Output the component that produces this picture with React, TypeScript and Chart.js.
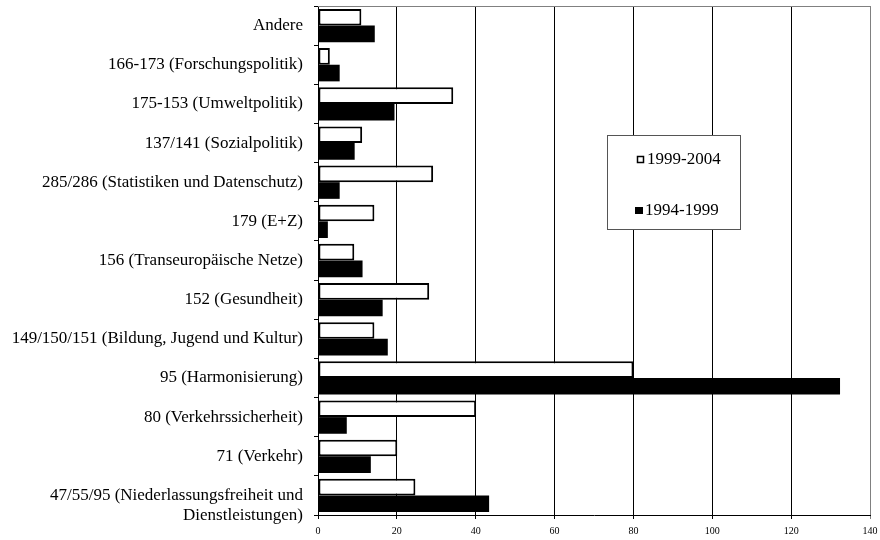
import React, { useEffect, useRef } from "react";
import { Chart, registerables } from "chart.js";

Chart.register(...registerables);

const categories: (string | string[])[] = [
  "Andere",
  "166-173 (Forschungspolitik)",
  "175-153 (Umweltpolitik)",
  "137/141 (Sozialpolitik)",
  "285/286 (Statistiken und Datenschutz)",
  "179 (E+Z)",
  "156 (Transeuropäische Netze)",
  "152 (Gesundheit)",
  "149/150/151 (Bildung, Jugend und Kultur)",
  "95 (Harmonisierung)",
  "80 (Verkehrssicherheit)",
  "71 (Verkehr)",
  ["", "47/55/95 (Niederlassungsfreiheit und", "Dienstleistungen)"],
];

const seriesLabels = ["1999-2004", "1994-1999"];
const values1999_2004 = [11, 3, 34.3, 11.2, 29.2, 14.3, 9.2, 28.2, 14.3, 80, 40.1, 20.1, 24.7];
const values1994_1999 = [14.4, 5.5, 19.4, 9.3, 5.5, 2.5, 11.3, 16.4, 17.7, 132.4, 7.3, 13.4, 43.4];
const xMin = 0;
const xMax = 140;
const xStep = 20;

const FONT = "'Liberation Serif', 'Times New Roman', serif";

const frameAndLegend = {
  id: "frameAndLegend",
  beforeDatasetsDraw(chart: any) {
    const { ctx, chartArea } = chart;
    ctx.save();
    ctx.strokeStyle = "#808080";
    ctx.lineWidth = 1;
    ctx.beginPath();
    ctx.moveTo(chartArea.left, Math.round(chartArea.top) + 0.5);
    ctx.lineTo(chartArea.right, Math.round(chartArea.top) + 0.5);
    ctx.stroke();
    ctx.restore();
  },
  afterDraw(chart: any) {
    const { ctx } = chart;
    ctx.save();
    const bx = 607, by = 135, bw = 133, bh = 94;
    ctx.fillStyle = "#ffffff";
    ctx.fillRect(bx, by, bw, bh);
    ctx.strokeStyle = "#555555";
    ctx.lineWidth = 1;
    ctx.strokeRect(bx + 0.5, by + 0.5, bw, bh);
    ctx.font = `17px ${FONT}`;
    ctx.textBaseline = "middle";
    ctx.textAlign = "left";
    // entry 1
    ctx.fillStyle = "#ffffff";
    ctx.fillRect(637, 156, 7, 7);
    ctx.strokeStyle = "#000";
    ctx.lineWidth = 1.5;
    ctx.strokeRect(637.5, 156.5, 6, 6);
    ctx.fillStyle = "#000";
    ctx.fillText(seriesLabels[0], 647, 160);
    // entry 2
    ctx.fillRect(635, 207, 8, 7);
    ctx.fillText(seriesLabels[1], 645, 211);
    ctx.restore();
  },
};

export default function App() {
  const ref = useRef<HTMLCanvasElement | null>(null);

  useEffect(() => {
    if (!ref.current) return;
    const chart = new Chart(ref.current, {
      type: "bar",
      data: {
        labels: categories as any,
        datasets: [
          {
            label: seriesLabels[0],
            data: values1999_2004,
            backgroundColor: "#ffffff",
            borderColor: "#000000",
            borderWidth: 2,
            borderSkipped: false,
            categoryPercentage: 0.85,
            barPercentage: 1.0,
          },
          {
            label: seriesLabels[1],
            data: values1994_1999,
            backgroundColor: "#000000",
            borderColor: "#000000",
            borderWidth: 0,
            borderSkipped: false,
            categoryPercentage: 0.85,
            barPercentage: 1.0,
          },
        ],
      },
      options: {
        indexAxis: "y",
        animation: false,
        responsive: true,
        maintainAspectRatio: false,
        layout: { padding: { top: 6, right: 10, left: 0, bottom: 0 } },
        plugins: {
          legend: { display: false },
          tooltip: { enabled: false },
          title: { display: false },
        },
        scales: {
          x: {
            min: xMin,
            max: xMax,
            ticks: {
              stepSize: xStep,
              color: "#000",
              font: { family: FONT, size: 10 },
              padding: 6,
              maxRotation: 0,
            },
            grid: {
              color: (c: any) => (c.tick && c.tick.value === xMax ? "#808080" : "#000000"),
              lineWidth: 1,
              tickLength: 4,
              drawTicks: true,
            },
            border: { color: "#000", width: 1 },
            afterFit: (scale: any) => {
              scale.height = 25;
              scale.paddingLeft = 0;
              scale.paddingRight = 0;
            },
          },
          y: {
            offset: true,
            ticks: {
              color: "#000",
              font: { family: FONT, size: 17, lineHeight: 1.18 },
              padding: 11,
              autoSkip: false,
            },
            grid: {
              display: true,
              drawOnChartArea: false,
              offset: true,
              color: "#000",
              tickLength: 4,
            },
            border: { color: "#000", width: 1 },
            afterFit: (scale: any) => {
              scale.width = 318;
              scale.paddingTop = 0;
              scale.paddingBottom = 0;
            },
          },
        },
      },
      plugins: [frameAndLegend],
    });
    return () => chart.destroy();
  }, []);

  return (
    <div style={{ position: "fixed", left: 0, top: 0, width: 880, height: 540, background: "#fff" }}>
      <canvas ref={ref} />
    </div>
  );
}
